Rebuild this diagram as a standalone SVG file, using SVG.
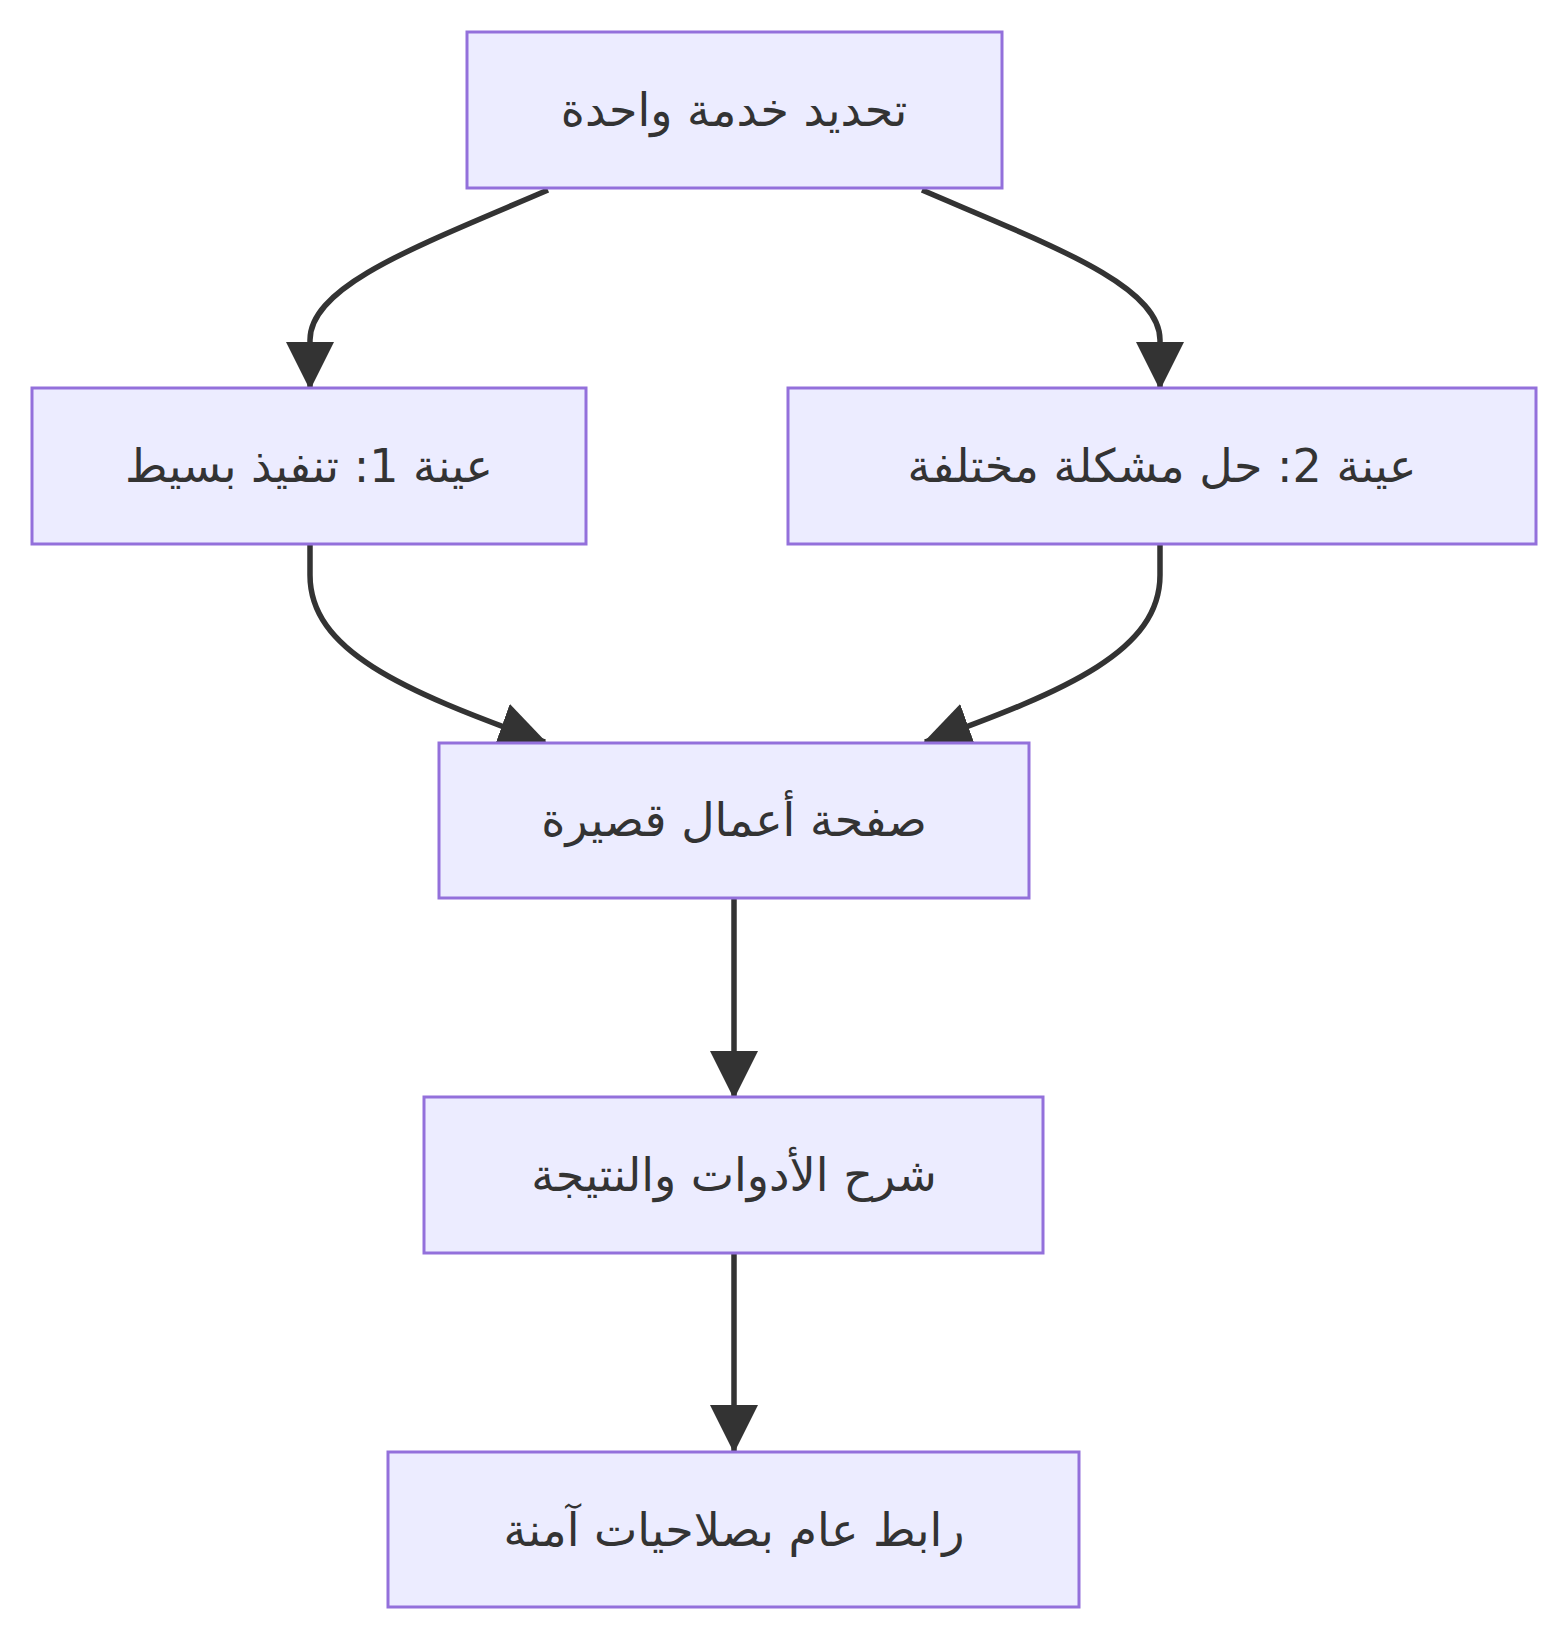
<svg xmlns="http://www.w3.org/2000/svg" width="1568" height="1644" viewBox="0 0 1568 1644">
<style>
.n rect{fill:#ECECFF;stroke:#9370DB;stroke-width:3}
.n text{font-family:"DejaVu Sans","Noto Sans",sans-serif;font-size:46px;fill:#333;text-anchor:middle;dominant-baseline:central}
.e path{fill:none;stroke:#333;stroke-width:5.5}
</style>
<defs>
<marker id="a" markerUnits="userSpaceOnUse" markerWidth="50" markerHeight="50" refX="46" refY="24" orient="auto">
<path d="M0,0 L48,24 L0,48 z" fill="#333"/>
</marker>
</defs>
<rect width="1568" height="1644" fill="#fff"/>
<g class="e">
<path d="M548,190 C420,245 310,285 310,340 L310,388" marker-end="url(#a)"/>
<path d="M922,190 C1050,245 1160,285 1160,340 L1160,388" marker-end="url(#a)"/>
<path d="M310,543 L310,575 C310,650 400,690 545,742" marker-end="url(#a)"/>
<path d="M1160,543 L1160,575 C1160,650 1070,690 925,742" marker-end="url(#a)"/>
<path d="M734,898 L734,1097" marker-end="url(#a)"/>
<path d="M734,1253 L734,1451" marker-end="url(#a)"/>
</g>
<g class="n" id="n1"><rect x="467" y="32" width="535" height="156"/><text x="734" y="110">تحديد خدمة واحدة</text></g>
<g class="n" id="n2"><rect x="32" y="388" width="554" height="156"/><text x="309" y="466">عينة 1: تنفيذ بسيط</text></g>
<g class="n" id="n3"><rect x="788" y="388" width="748" height="156"/><text x="1162" y="466">عينة 2: حل مشكلة مختلفة</text></g>
<g class="n" id="n4"><rect x="439" y="743" width="590" height="155"/><text x="734" y="820">صفحة أعمال قصيرة</text></g>
<g class="n" id="n5"><rect x="424" y="1097" width="619" height="156"/><text x="734" y="1175">شرح الأدوات والنتيجة</text></g>
<g class="n" id="n6"><rect x="388" y="1452" width="691" height="155"/><text x="734" y="1530">رابط عام بصلاحيات آمنة</text></g>
</svg>
